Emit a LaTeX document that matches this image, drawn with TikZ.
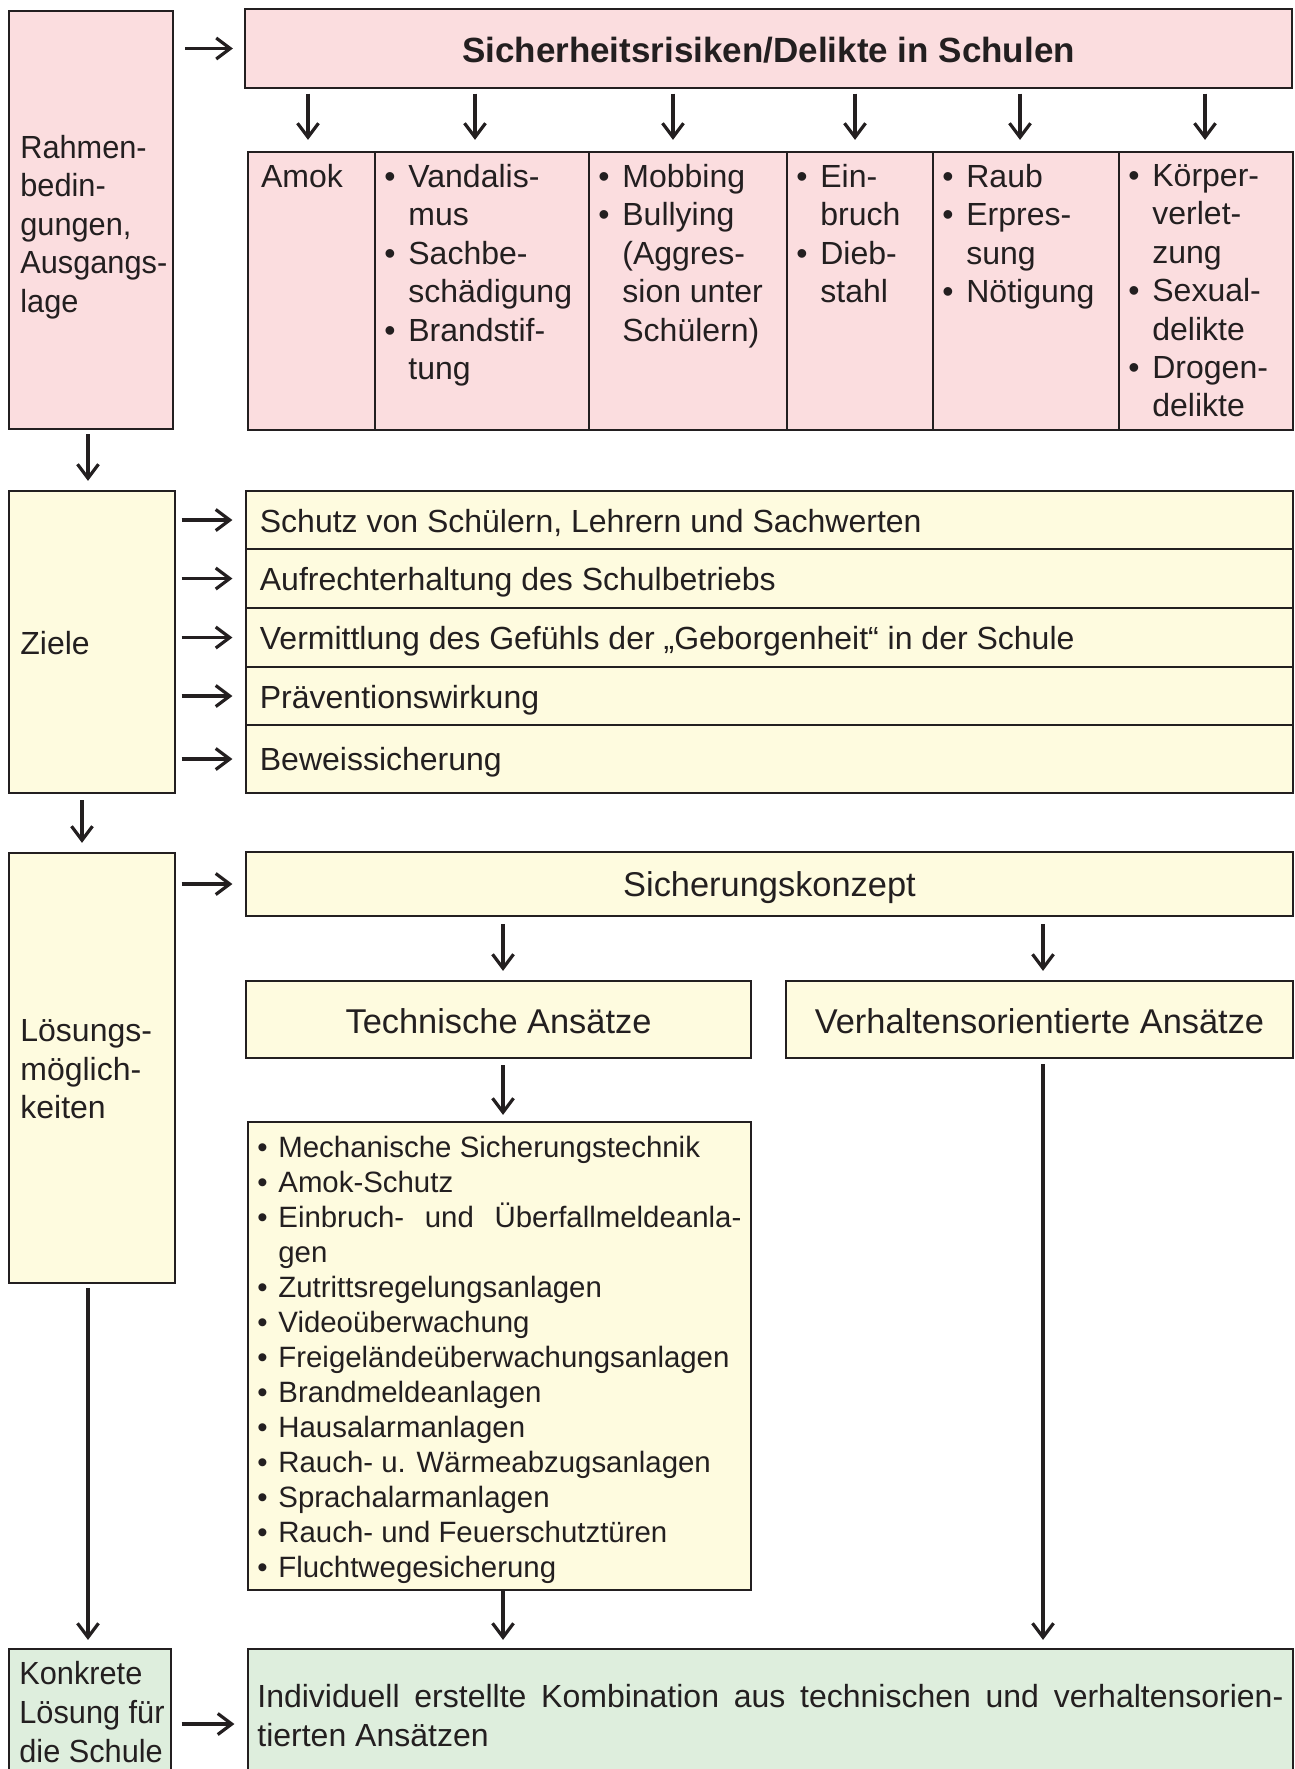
\documentclass[tikz,border=0pt]{standalone}
\usepackage{fontspec}
\setmainfont{Liberation Sans}
\newfontfamily\narrowfont{Liberation Sans}[FakeStretch=0.96]
\usetikzlibrary{arrows.meta,fit}
\definecolor{pk}{RGB}{251,221,223}
\definecolor{yl}{RGB}{254,251,223}
\definecolor{gr}{RGB}{222,238,221}
\definecolor{ln}{RGB}{35,31,32}
\newcommand\fa{\fontsize{16}{19.2}\selectfont}
\newcommand\fl{\fontsize{14.7}{17.5}\selectfont}
\newcommand\fb{\fontsize{17.2}{20}\selectfont}
\newcommand\bl{\makebox[12pt][l]{•}}
\newcommand\ib{\makebox[12pt]{}}
\newcommand\lb{\makebox[10.5pt][l]{•}}
\newcommand\li{\makebox[10.5pt]{}}
\begin{document}
\begin{tikzpicture}[x=0.5pt,y=-0.5pt,
 box/.style={draw=ln, line width=1.1pt, inner sep=0pt},
 pbox/.style={box, fill=pk}, ybox/.style={box, fill=yl}, gbox/.style={box, fill=gr},
 arr/.style={draw=ln, line width=1.6pt, -{Straight Barb[length=7pt,width=10.5pt]}},
 txt/.style={inner sep=0pt, anchor=north west, align=left, text=ln, font=\fa},
 ctxt/.style={inner sep=0pt, anchor=base, text=ln, font=\fb},
]
\useasboundingbox (0,0) rectangle (1295,1769);
% left column
\node[pbox, fit={(9,11) (173,429)}] (rahmen) {};
\node[ybox, fit={(9,491) (175,793)}] (ziele) {};
\node[ybox, fit={(9,853) (175,1283)}] (loes) {};
\node[gbox, fit={(9,1649) (171,1772)}] (konk) {};
% header and columns
\node[pbox, fit={(245,9) (1292,88)}] (head) {};
\node[pbox, fit={(248,152) (375,430)}] (c1) {};
\node[pbox, fit={(375,152) (589,430)}] (c2) {};
\node[pbox, fit={(589,152) (787,430)}] (c3) {};
\node[pbox, fit={(787,152) (933,430)}] (c4) {};
\node[pbox, fit={(933,152) (1119,430)}] (c5) {};
\node[pbox, fit={(1119,152) (1293,430)}] (c6) {};
% goals rows
\node[ybox, fit={(246,491) (1293,549)}] (r1) {};
\node[ybox, fit={(246,549) (1293,608)}] (r2) {};
\node[ybox, fit={(246,608) (1293,667)}] (r3) {};
\node[ybox, fit={(246,667) (1293,725)}] (r4) {};
\node[ybox, fit={(246,725) (1293,793)}] (r5) {};
% solutions
\node[ybox, fit={(246,852) (1293,916)}] (sk) {};
\node[ybox, fit={(246,981) (751,1058)}] (tech) {};
\node[ybox, fit={(786,981) (1293,1058)}] (verh) {};
\node[ybox, fit={(248,1122) (751,1590)}] (list) {};
\node[gbox, fit={(248,1649) (1293,1772)}] (final) {};

% centred texts
\node[ctxt, font=\bfseries\fontsize{17.5}{21}\selectfont] (thead) at (768.5,62) {Sicherheitsrisiken/Delikte in Schulen};
\node[ctxt] (tsk) at (769.5,896.5) {Sicherungskonzept};
\node[ctxt] (ttech) at (498.5,1033) {Technische Ansätze};
\node[ctxt] (tverh) at (1039.5,1033) {Verhaltensorientierte Ansätze};

% left-aligned texts (y = top of first line)
\node[txt, font=\narrowfont\fa] (trahmen) at (20,135) {Rahmen-\\bedin-\\gungen,\\Ausgangs-\\lage};
\node[txt] (tziele) at (20,631) {Ziele};
\node[txt] (tloes) at (20,1019.5) {Lösungs-\\möglich-\\keiten};
\node[txt, font=\narrowfont\fontsize{16}{19.6}\selectfont] (tkonk) at (19,1660.5) {Konkrete\\Lösung für\\die Schule};

\node[txt] (tc1) at (260.6,164) {Amok};
\node[txt] (tc2) at (384,164) {\bl Vandalis-\\\ib mus\\\bl Sachbe-\\\ib schädigung\\\bl Brandstif-\\\ib tung};
\node[txt] (tc3) at (598,164) {\bl Mobbing\\\bl Bullying\\\ib (Aggres-\\\ib sion unter\\\ib Schülern)};
\node[txt] (tc4) at (796,164) {\bl Ein-\\\ib bruch\\\bl Dieb-\\\ib stahl};
\node[txt] (tc5) at (942,164) {\bl Raub\\\bl Erpres-\\\ib sung\\\bl Nötigung};
\node[txt] (tc6) at (1128,164) {\bl Körper-\\\ib verlet-\\\ib zung\\\bl Sexual-\\\ib delikte\\\bl Drogen-\\\ib delikte};

\node[txt] (tr1) at (259.5,508.5) {Schutz von Schülern, Lehrern und Sachwerten};
\node[txt] (tr2) at (259.5,567) {Aufrechterhaltung des Schulbetriebs};
\node[txt] (tr3) at (259.5,626) {Vermittlung des Gefühls der „Geborgenheit“ in der Schule};
\node[txt] (tr4) at (259.5,684.5) {Präventionswirkung};
\node[txt] (tr5) at (259.5,747) {Beweissicherung};

\node[txt, font=\fl] (tlist) at (257,1135.5) {\lb Mechanische Sicherungstechnik\\\lb Amok-Schutz\\\lb \makebox[231.5pt][s]{Einbruch- und Überfallmeldeanla-}\\\li gen\\\lb Zutrittsregelungsanlagen\\\lb Videoüberwachung\\\lb Freigeländeüberwachungsanlagen\\\lb Brandmeldeanlagen\\\lb Hausalarmanlagen\\\lb Rauch- u. Wärmeabzugsanlagen\\\lb Sprachalarmanlagen\\\lb Rauch- und Feuerschutztüren\\\lb Fluchtwegesicherung};

\node[txt, font=\fontsize{16}{19.3}\selectfont] (tfinal) at (257,1684) {\makebox[513pt][s]{Individuell erstellte Kombination aus technischen und verhaltensorien-}\\tierten Ansätzen};

% helper coordinates for arrow positions
\coordinate (xa1) at (308,0);
\coordinate (xa2) at (475,0);
\coordinate (xa3) at (673,0);
\coordinate (xa4) at (855,0);
\coordinate (xa5) at (1020,0);
\coordinate (xa6) at (1205,0);
\coordinate (xl1) at (88,0);
\coordinate (xl2) at (82,0);
\coordinate (xt) at (503,0);
\coordinate (xv) at (1043,0);
\coordinate (yk) at (0,1724);

% arrows
\draw[arr, shorten <=5.5pt, shorten >=5.5pt] (rahmen.east |- head.west) -- (head.west);
\foreach \i in {1,...,6}{
  \draw[arr, shorten <=2.25pt, shorten >=5.5pt] (head.south -| xa\i) -- (c\i.north -| xa\i);
}
\draw[arr, shorten <=2pt, shorten >=4.5pt] (rahmen.south -| xl1) -- (ziele.north -| xl1);
\foreach \i in {1,...,5}{
  \draw[arr, shorten <=2.75pt, shorten >=6.25pt] (ziele.east |- r\i.west) -- (r\i.west);
}
\draw[arr, shorten <=3pt, shorten >=4.5pt] (ziele.south -| xl2) -- (loes.north -| xl2);
\draw[arr, shorten <=2.75pt, shorten >=6.25pt] (loes.east |- sk.west) -- (sk.west);
\draw[arr, shorten <=3.5pt, shorten >=4.5pt] (sk.south -| xt) -- (tech.north -| xt);
\draw[arr, shorten <=3.5pt, shorten >=4.5pt] (sk.south -| xv) -- (verh.north -| xv);
\draw[arr, shorten <=3pt, shorten >=3pt] (tech.south -| xt) -- (list.north -| xt);
\draw[arr, shorten >=4pt] (list.south -| xt) -- (final.north -| xt);
\draw[arr, shorten <=2.5pt, shorten >=4pt] (verh.south -| xv) -- (final.north -| xv);
\draw[arr, shorten <=2pt, shorten >=4pt] (loes.south -| xl1) -- (konk.north -| xl1);
\draw[arr, shorten <=4.75pt, shorten >=6.25pt] (konk.east |- yk) -- (final.west |- yk);
\end{tikzpicture}
\end{document}
